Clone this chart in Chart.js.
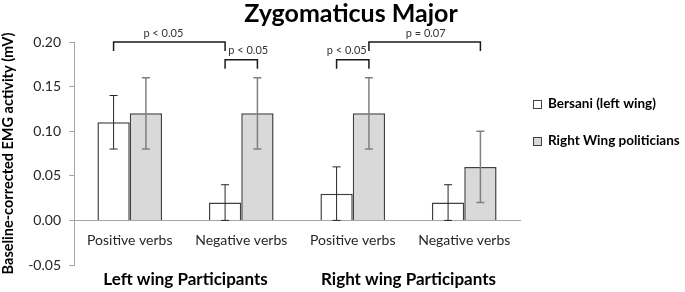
<!DOCTYPE html>
<html>
<head>
<meta charset="utf-8">
<script src="https://cdn.jsdelivr.net/npm/chart.js@4/dist/chart.umd.min.js"></script>
<style>
  html, body { margin: 0; padding: 0; background: #fff; }
  #wrap { width: 685px; height: 292px; }
</style>
</head>
<body>
<div id="wrap"><canvas id="chart"></canvas></div>
<script>
const categories = ['Positive verbs', 'Negative verbs', 'Positive verbs', 'Negative verbs'];
const groupLabels = ['Left wing Participants', 'Right wing Participants'];
const bersaniValues = [0.11, 0.02, 0.03, 0.02];
const bersaniErrors = [0.03, 0.02, 0.03, 0.02];
const rightWingValues = [0.12, 0.12, 0.12, 0.06];
const rightWingErrors = [0.04, 0.04, 0.04, 0.04];
const yTicks = [-0.05, 0, 0.05, 0.10, 0.15, 0.20];

// significance brackets: [datasetIndex, categoryIndex] for each leg
const comparisons = [
  { from: [0, 0], to: [0, 1], level: 0.20, label: 'p < 0.05' },
  { from: [0, 1], to: [1, 1], level: 0.18, label: 'p < 0.05' },
  { from: [0, 2], to: [1, 2], level: 0.18, label: 'p < 0.05' },
  { from: [1, 2], to: [1, 3], level: 0.20, label: 'p = 0.07' }
];
const labelShift = [-6, 7, -6, 1];

const FONT = 'Lato, "DejaVu Sans", sans-serif';

const decorations = {
  id: 'decorations',
  afterDraw(chart) {
    const ctx = chart.ctx;
    const x = chart.scales.x;
    const y = chart.scales.y;
    ctx.save();

    // error bars
    chart.data.datasets.forEach((ds, di) => {
      const meta = chart.getDatasetMeta(di);
      ctx.strokeStyle = ds.errorColor;
      ctx.lineWidth = ds.errorWidth;
      meta.data.forEach((bar, i) => {
        const v = ds.data[i], e = ds.errors[i];
        const top = y.getPixelForValue(v + e);
        const bot = y.getPixelForValue(v - e);
        ctx.beginPath();
        ctx.moveTo(bar.x, top); ctx.lineTo(bar.x, bot);
        ctx.moveTo(bar.x - 4, top); ctx.lineTo(bar.x + 4, top);
        ctx.moveTo(bar.x - 4, bot); ctx.lineTo(bar.x + 4, bot);
        ctx.stroke();
      });
    });

    // brackets
    ctx.strokeStyle = '#1a1a1a';
    ctx.lineWidth = 1.5;
    ctx.font = '11px ' + FONT;
    ctx.fillStyle = '#333';
    ctx.textAlign = 'center';
    ctx.textBaseline = 'middle';
    comparisons.forEach((c, k) => {
      const x1 = chart.getDatasetMeta(c.from[0]).data[c.from[1]].x;
      const x2 = chart.getDatasetMeta(c.to[0]).data[c.to[1]].x;
      const yTop = y.getPixelForValue(c.level);
      const yLeg = y.getPixelForValue(c.level - 0.01);
      ctx.beginPath();
      ctx.moveTo(x1, yLeg); ctx.lineTo(x1, yTop); ctx.lineTo(x2, yTop); ctx.lineTo(x2, yLeg);
      ctx.stroke();
      ctx.fillText(c.label, (x1 + x2) / 2 + labelShift[k], yTop - 9);
    });

    // group labels under the categories
    ctx.font = 'bold 17px ' + FONT;
    ctx.fillStyle = '#000';
    groupLabels.forEach((g, k) => {
      const gx = (x.getPixelForValue(k * 2) + x.getPixelForValue(k * 2 + 1)) / 2;
      ctx.fillText(g, gx, 280);
    });

    // title
    ctx.font = 'bold 25px ' + FONT;
    ctx.fillText('Zygomaticus Major', 351, 14);

    // legend
    ctx.font = 'bold 13.5px ' + FONT;
    ctx.textAlign = 'left';
    chart.data.datasets.forEach((ds, di) => {
      const ly = 104 + di * 37;
      ctx.fillStyle = ds.backgroundColor;
      ctx.fillRect(533, ly - 4, 8, 8);
      ctx.strokeStyle = '#404040';
      ctx.lineWidth = 1;
      ctx.strokeRect(533.5, ly - 3.5, 8, 8);
      ctx.fillStyle = '#000';
      ctx.fillText(ds.label, 548, ly);
    });

    ctx.restore();
  }
};

new Chart(document.getElementById('chart'), {
  type: 'bar',
  data: {
    labels: categories,
    datasets: [
      {
        label: 'Bersani (left wing)',
        data: bersaniValues,
        errors: bersaniErrors,
        backgroundColor: '#ffffff',
        borderColor: '#404040',
        borderWidth: 1.5,
        errorColor: '#262626',
        errorWidth: 1
      },
      {
        label: 'Right Wing politicians',
        data: rightWingValues,
        errors: rightWingErrors,
        backgroundColor: '#d9d9d9',
        borderColor: '#404040',
        borderWidth: 1.5,
        errorColor: '#808080',
        errorWidth: 1.5
      }
    ]
  },
  options: {
    responsive: true,
    maintainAspectRatio: false,
    animation: false,
    categoryPercentage: 0.58,
    barPercentage: 1,
    layout: { padding: { top: 42, right: 165, bottom: 27, left: 0 } },
    plugins: {
      legend: { display: false },
      title: { display: false },
      tooltip: { enabled: false }
    },
    scales: {
      x: {
        position: { y: 0 },
        grid: { display: false, drawTicks: false },
        border: { display: true, color: '#a6a6a6', width: 1 },
        ticks: { padding: 12, color: '#262626', font: { family: FONT, size: 14 } }
      },
      y: {
        min: -0.05,
        max: 0.20,
        afterBuildTicks: s => { s.ticks = yTicks.map(v => ({ value: v })); },
        afterFit: s => { s.width = 74; },
        grid: { drawOnChartArea: false, tickLength: 5, tickColor: '#a6a6a6' },
        border: { color: '#a6a6a6', width: 1 },
        ticks: {
          padding: 8,
          color: '#262626',
          font: { family: FONT, size: 14 },
          callback: v => v.toFixed(2)
        },
        title: {
          display: true,
          text: 'Baseline-corrected EMG activity (mV)',
          color: '#000',
          padding: 0,
          font: { family: FONT, size: 14.5, weight: 'bold' }
        }
      }
    }
  },
  plugins: [decorations]
});
</script>
</body>
</html>
